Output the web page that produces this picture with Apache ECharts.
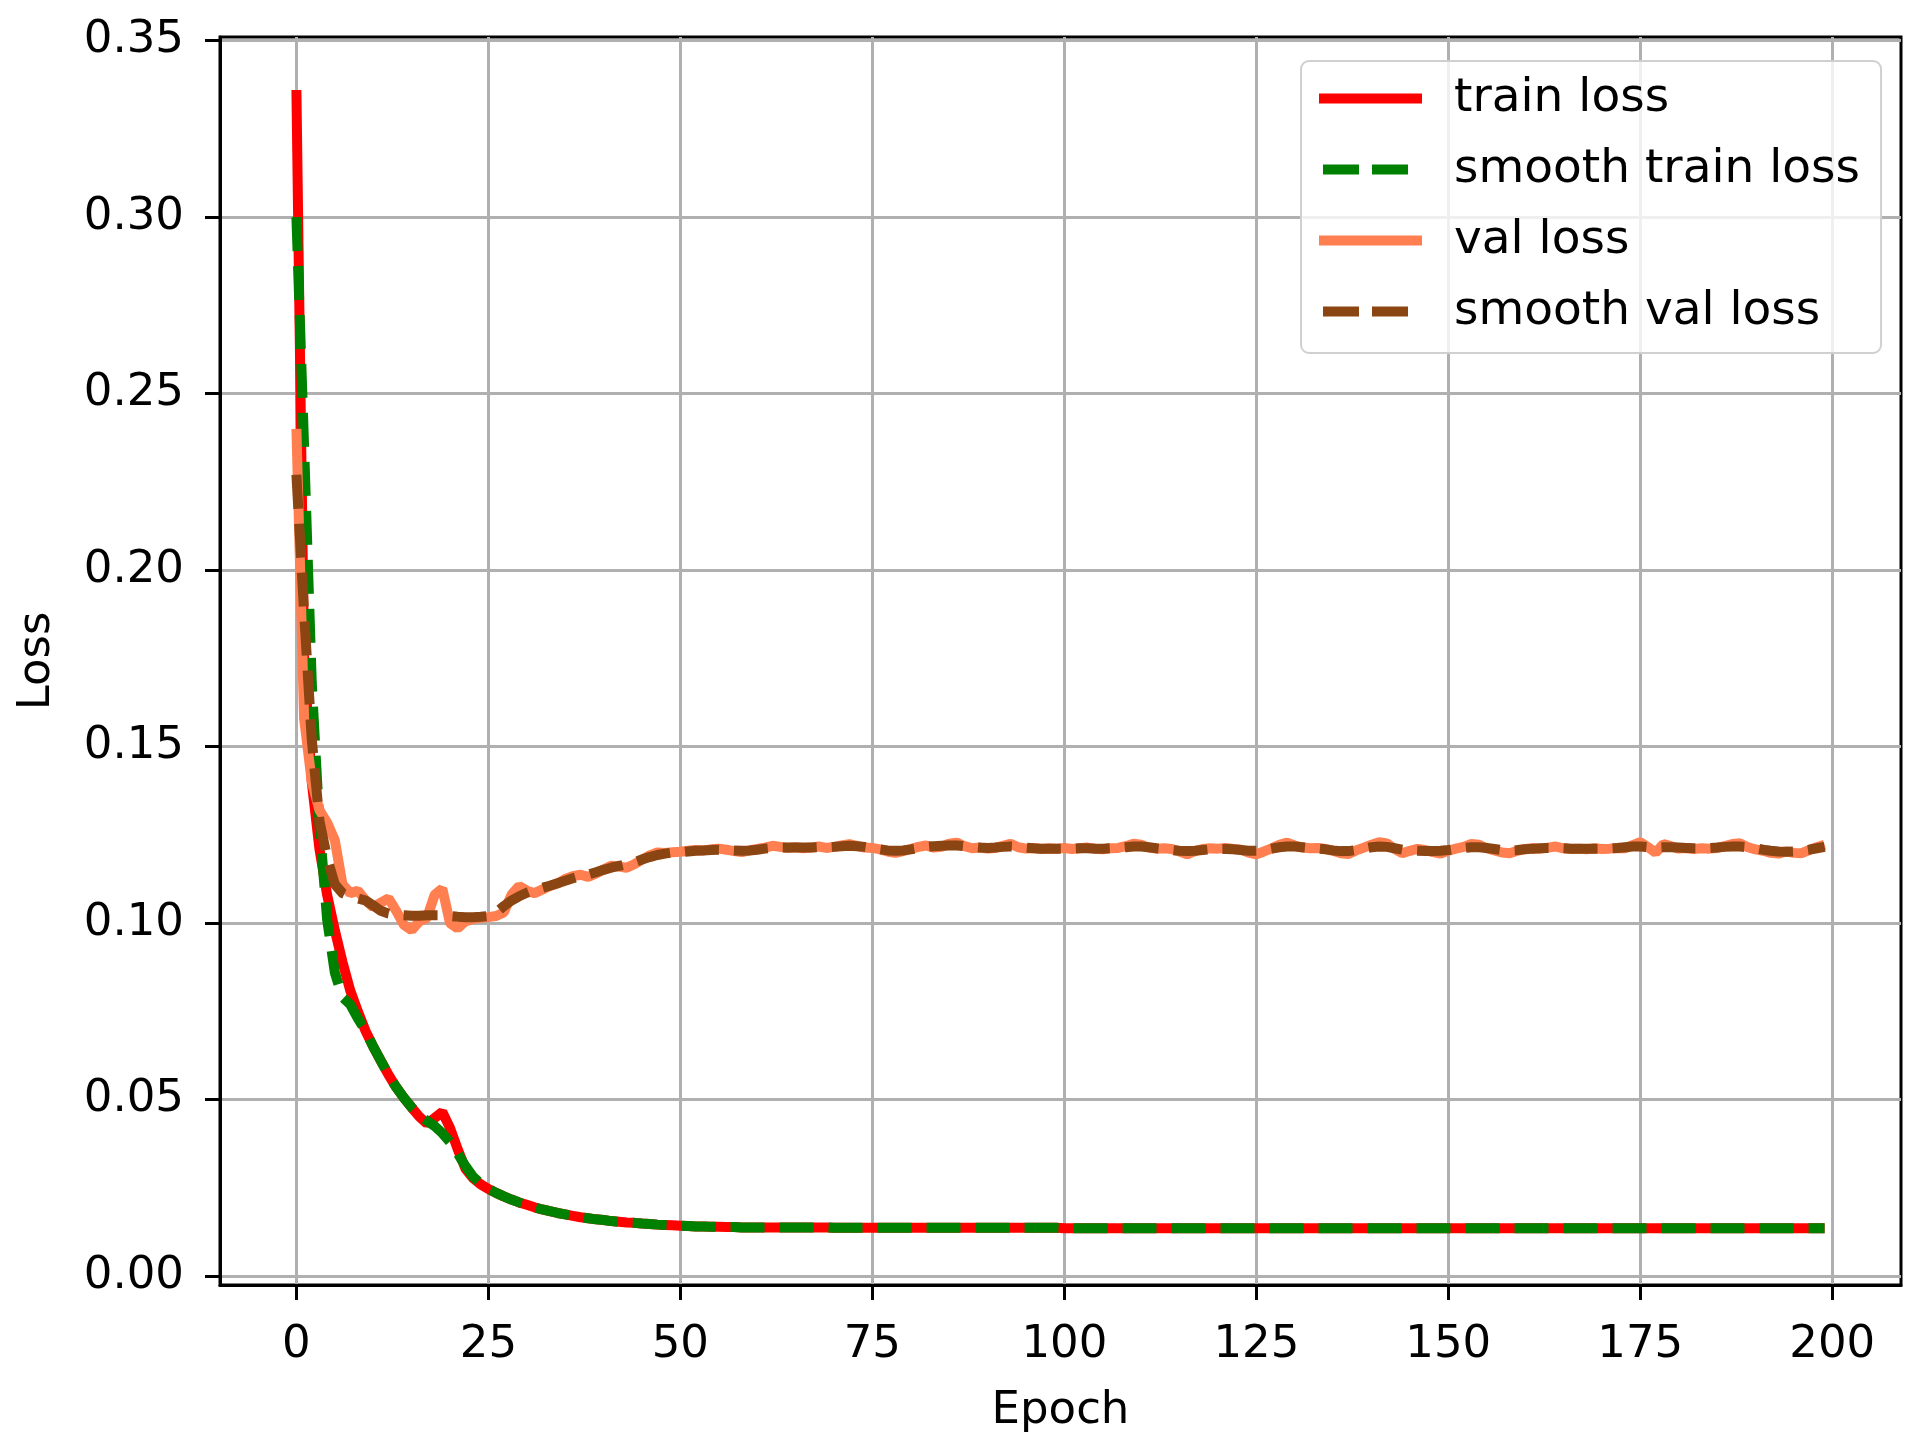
<!DOCTYPE html>
<html lang="en">
  <head>
    <meta charset="UTF-8" />
    <title>Loss</title>
    <script src="https://cdn.jsdelivr.net/npm/echarts@6.0.0/dist/echarts.min.js"></script>
    <style>
      html, body { margin: 0; padding: 0; background: #fff; }
      #main { width: 1919px; height: 1443px; }
    </style>
  </head>
  <body>
    <div id="main"></div>
    <script type="text/javascript">
      // loss per epoch
      const trainLoss = [
        0.336, 0.175, 0.140, 0.121, 0.108, 0.098, 0.089, 0.081, 0.075, 0.0695,
        0.065, 0.061, 0.057, 0.0535, 0.0505, 0.0478, 0.0452, 0.0432, 0.0448, 0.0465,
        0.0420, 0.0360, 0.0305, 0.0278, 0.0260, 0.0247, 0.0236, 0.0226, 0.0217, 0.0209,
        0.0202, 0.0195, 0.0189, 0.0184, 0.0179, 0.0175, 0.0171, 0.0167, 0.0164, 0.0161,
        0.0159, 0.0156, 0.0154, 0.0152, 0.0151, 0.0149, 0.0148, 0.0146, 0.0145, 0.0144,
        0.0143, 0.0142, 0.0141, 0.0141, 0.0140, 0.0140, 0.0139, 0.0139, 0.0138, 0.0138,
        0.0138, 0.0138, 0.0138, 0.0138, 0.0138, 0.0138, 0.0138, 0.0138, 0.0138, 0.0138,
        0.0137, 0.0137, 0.0137, 0.0137, 0.0137, 0.0137, 0.0137, 0.0137, 0.0137, 0.0137,
        0.0137, 0.0137, 0.0137, 0.0137, 0.0137, 0.0137, 0.0137, 0.0137, 0.0137, 0.0137,
        0.0137, 0.0137, 0.0137, 0.0137, 0.0137, 0.0137, 0.0137, 0.0137, 0.0137, 0.0137,
        0.0136, 0.0136, 0.0136, 0.0136, 0.0136, 0.0136, 0.0136, 0.0136, 0.0136, 0.0136,
        0.0136, 0.0136, 0.0136, 0.0136, 0.0136, 0.0136, 0.0136, 0.0136, 0.0136, 0.0136,
        0.0136, 0.0136, 0.0136, 0.0136, 0.0136, 0.0136, 0.0136, 0.0136, 0.0136, 0.0136,
        0.0136, 0.0136, 0.0136, 0.0136, 0.0136, 0.0136, 0.0136, 0.0136, 0.0136, 0.0136,
        0.0136, 0.0136, 0.0136, 0.0136, 0.0136, 0.0136, 0.0136, 0.0136, 0.0136, 0.0136,
        0.0136, 0.0136, 0.0136, 0.0136, 0.0136, 0.0136, 0.0136, 0.0136, 0.0136, 0.0136,
        0.0136, 0.0136, 0.0136, 0.0136, 0.0136, 0.0136, 0.0136, 0.0136, 0.0136, 0.0136,
        0.0136, 0.0136, 0.0136, 0.0136, 0.0136, 0.0136, 0.0136, 0.0136, 0.0136, 0.0136,
        0.0136, 0.0136, 0.0136, 0.0136, 0.0136, 0.0136, 0.0136, 0.0136, 0.0136, 0.0136,
        0.0136, 0.0136, 0.0136, 0.0136, 0.0136, 0.0136, 0.0136, 0.0136, 0.0136, 0.0136
      ];

      const smoothTrainLoss = [
        0.300, 0.235, 0.168, 0.128, 0.101, 0.086, 0.079, 0.077, 0.0730, 0.0695,
        0.065, 0.061, 0.057, 0.0535, 0.0505, 0.0478, 0.0455, 0.0440, 0.0425, 0.0405,
        0.0380, 0.0348, 0.0312, 0.0282, 0.0262, 0.0248, 0.0236, 0.0226, 0.0217, 0.0209,
        0.0202, 0.0195, 0.0189, 0.0184, 0.0179, 0.0175, 0.0171, 0.0167, 0.0164, 0.0161,
        0.0159, 0.0156, 0.0154, 0.0152, 0.0151, 0.0149, 0.0148, 0.0146, 0.0145, 0.0144,
        0.0143, 0.0142, 0.0141, 0.0141, 0.0140, 0.0140, 0.0139, 0.0139, 0.0138, 0.0138,
        0.0138, 0.0138, 0.0138, 0.0138, 0.0138, 0.0138, 0.0138, 0.0138, 0.0138, 0.0138,
        0.0137, 0.0137, 0.0137, 0.0137, 0.0137, 0.0137, 0.0137, 0.0137, 0.0137, 0.0137,
        0.0137, 0.0137, 0.0137, 0.0137, 0.0137, 0.0137, 0.0137, 0.0137, 0.0137, 0.0137,
        0.0137, 0.0137, 0.0137, 0.0137, 0.0137, 0.0137, 0.0137, 0.0137, 0.0137, 0.0137,
        0.0136, 0.0136, 0.0136, 0.0136, 0.0136, 0.0136, 0.0136, 0.0136, 0.0136, 0.0136,
        0.0136, 0.0136, 0.0136, 0.0136, 0.0136, 0.0136, 0.0136, 0.0136, 0.0136, 0.0136,
        0.0136, 0.0136, 0.0136, 0.0136, 0.0136, 0.0136, 0.0136, 0.0136, 0.0136, 0.0136,
        0.0136, 0.0136, 0.0136, 0.0136, 0.0136, 0.0136, 0.0136, 0.0136, 0.0136, 0.0136,
        0.0136, 0.0136, 0.0136, 0.0136, 0.0136, 0.0136, 0.0136, 0.0136, 0.0136, 0.0136,
        0.0136, 0.0136, 0.0136, 0.0136, 0.0136, 0.0136, 0.0136, 0.0136, 0.0136, 0.0136,
        0.0136, 0.0136, 0.0136, 0.0136, 0.0136, 0.0136, 0.0136, 0.0136, 0.0136, 0.0136,
        0.0136, 0.0136, 0.0136, 0.0136, 0.0136, 0.0136, 0.0136, 0.0136, 0.0136, 0.0136,
        0.0136, 0.0136, 0.0136, 0.0136, 0.0136, 0.0136, 0.0136, 0.0136, 0.0136, 0.0136,
        0.0136, 0.0136, 0.0136, 0.0136, 0.0136, 0.0136, 0.0136, 0.0136, 0.0136, 0.0136
      ];

      const valLoss = [
        0.240, 0.158, 0.140, 0.132, 0.1285, 0.1235, 0.1110, 0.1085, 0.1092, 0.1065,
        0.1045, 0.1058, 0.1070, 0.1035, 0.0995, 0.0980, 0.1005, 0.1015, 0.1080, 0.1098,
        0.1000, 0.0985, 0.1005, 0.1012, 0.1015, 0.1017, 0.1020, 0.1030, 0.1080, 0.1105,
        0.1092, 0.1085, 0.1095, 0.1105, 0.1112, 0.1125, 0.1133, 0.1137, 0.1131, 0.1140,
        0.1152, 0.1163, 0.1160, 0.1157, 0.1167, 0.1180, 0.1192, 0.1200, 0.1199, 0.1201,
        0.1202, 0.1205, 0.1207, 0.1206, 0.1209, 0.1211, 0.1208, 0.1204, 0.1201, 0.1206,
        0.1210, 0.1214, 0.1219, 0.1216, 0.1213, 0.1215, 0.1212, 0.1214, 0.1217, 0.1213,
        0.1216, 0.1220, 0.1224, 0.1219, 0.1214, 0.1213, 0.1209, 0.1203, 0.1199, 0.1204,
        0.1210, 0.1216, 0.1220, 0.1214, 0.1216, 0.1225, 0.1228, 0.1218, 0.1212, 0.1214,
        0.1211, 0.1213, 0.1219, 0.1225, 0.1215, 0.1211, 0.1213, 0.1210, 0.1212, 0.1211,
        0.1213, 0.1210, 0.1212, 0.1214, 0.1211, 0.1209, 0.1212, 0.1213, 0.1218, 0.1225,
        0.1222, 0.1214, 0.1211, 0.1212, 0.1210, 0.1203, 0.1195, 0.1204, 0.1210, 0.1212,
        0.1211, 0.1213, 0.1210, 0.1208, 0.1200, 0.1195, 0.1203, 0.1212, 0.1222, 0.1228,
        0.1220, 0.1214, 0.1212, 0.1213, 0.1210, 0.1205, 0.1198, 0.1196, 0.1206, 0.1214,
        0.1222, 0.1229, 0.1226, 0.1210, 0.1198, 0.1205, 0.1210, 0.1207, 0.1201, 0.1197,
        0.1205, 0.1211, 0.1216, 0.1224, 0.1222, 0.1212, 0.1206, 0.1200, 0.1198, 0.1205,
        0.1210, 0.1212, 0.1211, 0.1214, 0.1217, 0.1212, 0.1210, 0.1211, 0.1209, 0.1212,
        0.1210, 0.1211, 0.1213, 0.1212, 0.1221, 0.1229, 0.1215, 0.1200, 0.1224, 0.1218,
        0.1211, 0.1213, 0.1210, 0.1212, 0.1211, 0.1213, 0.1218, 0.1224, 0.1226, 0.1215,
        0.1209, 0.1205, 0.1199, 0.1197, 0.1203, 0.1199, 0.1198, 0.1207, 0.1215, 0.1222
      ];

      const smoothValLoss = [
        0.227, 0.188, 0.152, 0.129, 0.1185, 0.1110, 0.1085, 0.1075, 0.1070, 0.1064,
        0.1050, 0.1035, 0.1027, 0.1023, 0.1022, 0.1021, 0.1021, 0.1022, 0.1022, 0.1022,
        0.1020, 0.1018, 0.1017, 0.1017, 0.1018, 0.1020, 0.1030, 0.1048, 0.1064, 0.1076,
        0.1086, 0.1094, 0.1100, 0.1106, 0.1113, 0.1120, 0.1127, 0.1133, 0.1138, 0.1144,
        0.1151, 0.1157, 0.1162, 0.1167, 0.1173, 0.1180, 0.1187, 0.1193, 0.1197, 0.1200,
        0.1201, 0.1203, 0.1205, 0.1206, 0.1207, 0.1208, 0.1207, 0.1206, 0.1205, 0.1206,
        0.1208, 0.1211, 0.1213, 0.1214, 0.1214, 0.1214, 0.1214, 0.1214, 0.1215, 0.1215,
        0.1216, 0.1218, 0.1219, 0.1218, 0.1216, 0.1213, 0.1209, 0.1206, 0.1205, 0.1206,
        0.1209, 0.1213, 0.1216, 0.1218, 0.1219, 0.1220, 0.1220, 0.1218, 0.1216, 0.1214,
        0.1213, 0.1214, 0.1216, 0.1217, 0.1216, 0.1214, 0.1212, 0.1211, 0.1211, 0.1211,
        0.1211, 0.1211, 0.1212, 0.1212, 0.1211, 0.1211, 0.1212, 0.1213, 0.1215, 0.1217,
        0.1217, 0.1215, 0.1212, 0.1210, 0.1207, 0.1205, 0.1204, 0.1205, 0.1207, 0.1209,
        0.1210, 0.1210, 0.1209, 0.1207, 0.1205, 0.1205, 0.1207, 0.1211, 0.1215, 0.1217,
        0.1217, 0.1215, 0.1213, 0.1211, 0.1209, 0.1206, 0.1204, 0.1204, 0.1207, 0.1211,
        0.1215, 0.1217, 0.1216, 0.1212, 0.1208, 0.1206, 0.1205, 0.1204, 0.1204, 0.1205,
        0.1207, 0.1210, 0.1213, 0.1215, 0.1215, 0.1213, 0.1210, 0.1207, 0.1206, 0.1207,
        0.1209, 0.1211, 0.1212, 0.1213, 0.1213, 0.1212, 0.1211, 0.1211, 0.1211, 0.1211,
        0.1211, 0.1212, 0.1213, 0.1215, 0.1217, 0.1217, 0.1215, 0.1214, 0.1215, 0.1215,
        0.1214, 0.1213, 0.1212, 0.1212, 0.1213, 0.1214, 0.1216, 0.1217, 0.1217, 0.1215,
        0.1212, 0.1208, 0.1205, 0.1203, 0.1202, 0.1203, 0.1205, 0.1208, 0.1212, 0.1216
      ];

      const xTicks = [0, 25, 50, 75, 100, 125, 150, 175, 200];
      const yTicks = [0, 0.05, 0.1, 0.15, 0.2, 0.25, 0.3, 0.35];

      const font = "DejaVu Sans";
      const dash = [34, 15];

      // legend handles as filled paths (solid bar / two dashes), 103 x 24 box
      const solidIcon = "path://M0,0L0,0Z M103,24L103,24Z M0,7H103V17H0Z";
      const dashIcon = "path://M0,0L0,0Z M103,24L103,24Z M4,7H40V17H4Z M53,7H89V17H53Z";

      function toPoints(arr) {
        return arr.map((v, i) => [i, v]);
      }

      function lineSeries(name, arr, color, dashed) {
        return {
          name: name,
          type: "line",
          data: toPoints(arr),
          symbol: "none",
          showSymbol: false,
          lineStyle: {
            color: color,
            width: 10,
            type: dashed ? dash : "solid",
            cap: "butt",
          },
          itemStyle: { color: color },
        };
      }

      var myChart = echarts.init(document.getElementById("main"));
      var option = {
        animation: false,
        backgroundColor: "#fff",
        textStyle: { fontFamily: font },
        grid: {
          left: 220,
          right: 18,
          top: 37,
          bottom: 158,
          show: true,
          borderColor: "#000",
          borderWidth: 3,
        },
        legend: {
          orient: "vertical",
          left: 1301,
          top: 61,
          padding: [14, 21, 18, 18],
          itemWidth: 103,
          itemHeight: 24,
          itemGap: 24,
          symbolKeepAspect: false,
          backgroundColor: "rgba(255,255,255,0.8)",
          borderColor: "#d0d0d0",
          borderWidth: 2,
          borderRadius: 8,
          textStyle: {
            fontFamily: font,
            fontSize: 47,
            color: "#000",
            padding: [0, 0, 0, 27],
            lineHeight: 47,
          },
          data: [
            { name: "train loss", icon: solidIcon },
            { name: "smooth train loss", icon: dashIcon },
            { name: "val loss", icon: solidIcon },
            { name: "smooth val loss", icon: dashIcon },
          ],
        },
        xAxis: {
          type: "value",
          min: -9.95,
          max: 208.95,
          name: "Epoch",
          nameLocation: "middle",
          nameGap: 104,
          nameTextStyle: { fontFamily: font, fontSize: 45, color: "#000" },
          axisLine: { show: true, onZero: false, lineStyle: { color: "#000", width: 3 } },
          axisTick: { show: true, length: 15, lineStyle: { color: "#000", width: 3 }, customValues: xTicks },
          axisLabel: { fontFamily: font, fontSize: 45, color: "#000", margin: 38, customValues: xTicks },
          splitLine: { show: true, lineStyle: { color: "#b0b0b0", width: 3 } },
        },
        yAxis: {
          type: "value",
          min: -0.0025,
          max: 0.351,
          name: "Loss",
          nameLocation: "middle",
          nameGap: 160,
          nameTextStyle: { fontFamily: font, fontSize: 45, color: "#000" },
          axisLine: { show: true, onZero: false, lineStyle: { color: "#000", width: 3 } },
          axisTick: { show: true, length: 15, lineStyle: { color: "#000", width: 3 }, customValues: yTicks },
          axisLabel: {
            fontFamily: font,
            fontSize: 45,
            color: "#000",
            margin: 36,
            customValues: yTicks,
            formatter: (v) => v.toFixed(2),
          },
          splitLine: { show: true, lineStyle: { color: "#b0b0b0", width: 3 } },
        },
        series: [
          lineSeries("train loss", trainLoss, "#ff0000", false),
          lineSeries("smooth train loss", smoothTrainLoss, "#008000", true),
          lineSeries("val loss", valLoss, "#ff7f50", false),
          lineSeries("smooth val loss", smoothValLoss, "#8b4513", true),
        ],
      };

      option && myChart.setOption(option);
    </script>
  </body>
</html>
